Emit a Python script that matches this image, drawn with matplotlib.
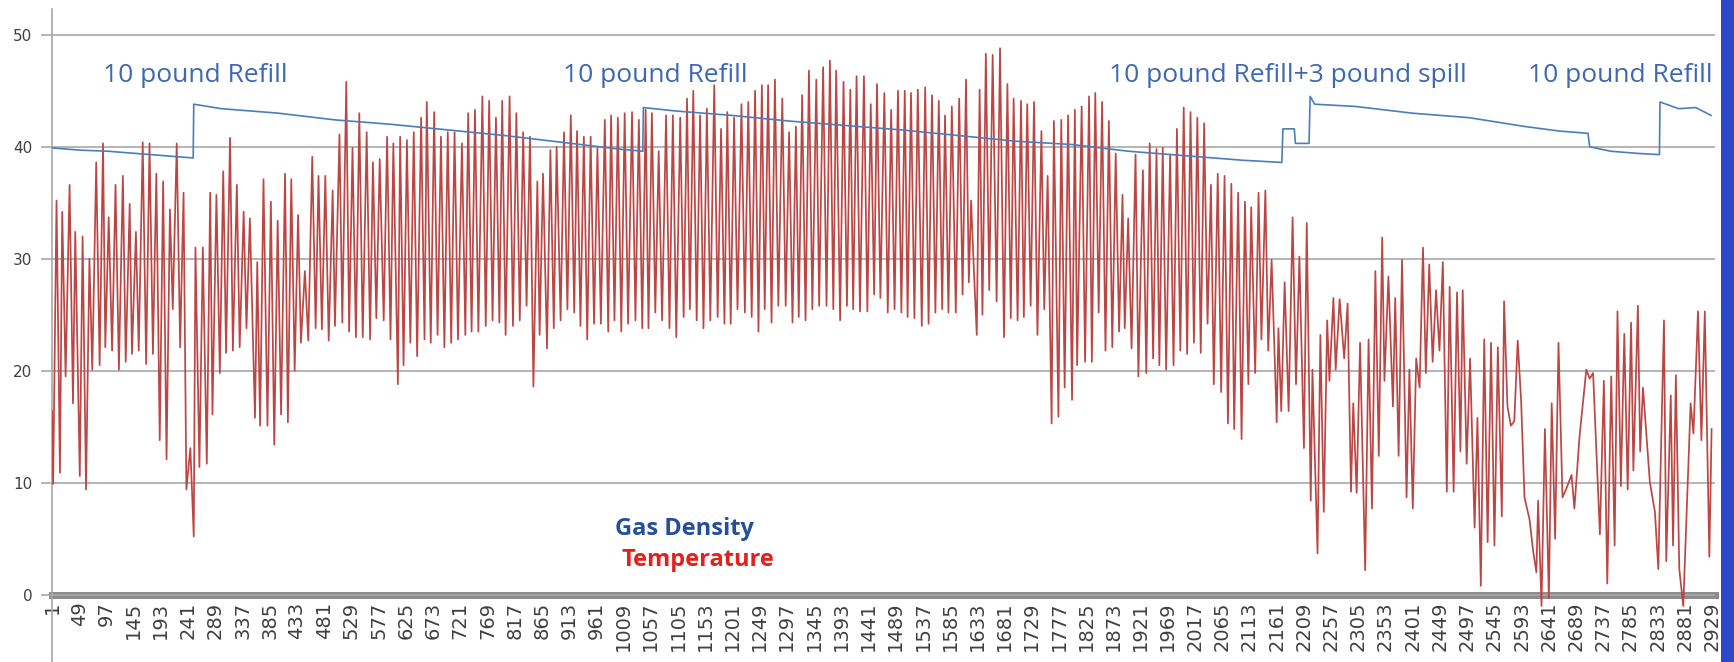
import matplotlib
matplotlib.use("Agg")
import matplotlib.pyplot as plt
from matplotlib.patches import Rectangle

# ---------------- data ----------------
temp_idx = [1, 3, 9, 15, 19, 25, 32, 38, 42, 50, 55, 61, 67, 72, 79, 85, 91, 95, 101, 107, 113, 119, 126, 131, 138, 142, 149, 154, 161, 167, 173, 179, 185, 191, 197, 203, 209, 214, 221, 227, 233, 238, 245, 251, 254, 261, 267, 274, 280, 284, 291, 297, 303, 308, 315, 320, 327, 332, 339, 344, 350, 359, 363, 368, 374, 381, 387, 393, 399, 405, 412, 417, 423, 429,
            435, 440, 447, 453, 460, 466, 471, 477, 483, 489, 496, 500, 508, 513, 520, 525, 531, 537, 543, 549, 556, 562, 567, 573, 579, 586, 592, 598, 603, 611, 615, 621, 627, 633, 639, 645, 652, 658, 662, 669, 675, 681, 687, 693, 699, 705, 711, 717, 724, 730, 735, 741, 747, 753, 760, 766, 772, 778, 784, 790, 795, 801, 808, 814, 820, 826, 832, 838, 844, 850, 857, 861, 867, 874, 880, 886, 891,
            898, 904, 910, 916, 922, 927, 933, 939, 945, 951, 957, 963, 969, 976, 982, 987, 993, 999, 1005, 1011, 1017, 1024, 1030, 1036, 1042, 1048, 1053, 1059, 1065, 1071, 1077, 1084, 1090, 1096, 1102, 1109, 1115, 1121, 1126, 1132, 1138, 1144, 1150, 1156, 1162, 1169, 1175, 1181, 1187, 1192, 1198, 1204, 1210, 1217, 1223, 1229, 1235, 1241, 1247, 1253, 1258, 1264, 1270, 1276, 1282, 1289, 1295, 1301, 1307, 1313, 1318, 1324, 1330, 1336, 1342, 1349, 1354,
            1361, 1367, 1373, 1379, 1384, 1391, 1397, 1403, 1409, 1414, 1420, 1426, 1433, 1439, 1445, 1451, 1456, 1462, 1469, 1475, 1481, 1487, 1493, 1499, 1505, 1510, 1516, 1522, 1528, 1535, 1541, 1547, 1553, 1559, 1565, 1571, 1576, 1582, 1588, 1595, 1601, 1607, 1613, 1618, 1622, 1627, 1632, 1637, 1642, 1648, 1654, 1660, 1667, 1673, 1680, 1686, 1692, 1697, 1704, 1710, 1715, 1721, 1727, 1733, 1739, 1746, 1751, 1757, 1764, 1768, 1776, 1781, 1787, 1793, 1800, 1805,
            1809, 1817, 1823, 1830, 1835, 1841, 1847, 1853, 1859, 1865, 1871, 1877, 1883, 1889, 1893, 1899, 1905, 1912, 1917, 1925, 1931, 1937, 1943, 1949, 1954, 1960, 1966, 1973, 1979, 1985, 1991, 1997, 2003, 2009, 2015, 2021, 2027, 2033, 2039, 2045, 2050, 2057, 2063, 2069, 2075, 2081, 2086, 2093, 2099, 2105, 2111, 2116, 2123, 2129, 2134, 2141, 2146, 2152, 2161, 2164, 2169, 2175, 2182, 2189, 2195, 2201, 2209, 2214, 2221, 2224, 2233, 2238, 2244, 2250, 2254, 2261, 2265, 2272,
            2280, 2286, 2292, 2296, 2302, 2308, 2317, 2323, 2329, 2335, 2341, 2347, 2351, 2358, 2366, 2370, 2376, 2382, 2390, 2395, 2401, 2407, 2413, 2419, 2424, 2430, 2436, 2442, 2448, 2454, 2461, 2466, 2473, 2479, 2485, 2489, 2496, 2502, 2510, 2515, 2521, 2527, 2533, 2539, 2545, 2551, 2558, 2562, 2568, 2574, 2580, 2586, 2592, 2598, 2607, 2613, 2619, 2622, 2628, 2634, 2641, 2646, 2652, 2658, 2665, 2672, 2681, 2686, 2695, 2707, 2713, 2719,
            2731, 2738, 2744, 2751, 2757, 2762, 2768, 2774, 2780, 2786, 2790, 2798, 2802, 2807, 2819, 2828, 2834, 2844, 2848, 2856, 2860, 2865, 2871, 2878, 2891, 2896, 2904, 2910, 2916, 2924, 2928]

temp_val = [16.4, 9.9, 35.2, 10.9, 34.2, 19.5, 36.6, 17.1, 32.4, 10.6, 32.0, 9.4, 30.0, 20.1, 38.6, 20.5, 40.3, 22.1, 33.7, 21.8, 36.6, 20.1, 37.4, 20.8, 34.9, 21.5, 32.4, 21.8, 40.4, 20.6, 40.3, 21.5, 37.6, 13.8, 36.9, 12.1, 34.4, 25.5, 40.3, 22.1, 35.9, 9.4, 13.1, 5.2, 31.0, 11.4, 31.0, 11.7, 35.9, 16.1, 35.7, 19.8, 37.8, 21.6, 40.8, 21.8, 36.6, 22.1, 34.2, 23.8, 33.6, 15.8, 29.7, 15.1, 37.1, 15.1, 35.1, 13.4, 33.4, 16.1, 37.6, 15.4, 37.1, 20.0,
            33.9, 22.5, 28.9, 22.7, 39.1, 23.8, 37.4, 23.7, 37.4, 22.7, 36.1, 24.0, 41.1, 24.3, 45.8, 23.5, 39.9, 23.0, 43.0, 23.0, 41.3, 22.8, 38.6, 24.7, 38.9, 24.5, 40.9, 22.8, 40.3, 18.8, 40.9, 20.5, 40.6, 22.5, 41.3, 21.3, 42.6, 22.8, 44.0, 22.5, 43.1, 23.2, 40.9, 22.1, 41.3, 22.5, 41.3, 22.8, 40.3, 23.2, 43.0, 23.5, 43.3, 23.5, 44.5, 24.0, 44.1, 24.5, 42.6, 24.3, 44.1, 23.2, 44.5, 24.0, 43.0, 24.5, 41.3, 25.8, 40.9, 18.6, 36.9, 23.2, 37.6, 22.0, 39.7, 23.8, 40.0,
            24.5, 41.3, 25.5, 42.8, 25.2, 41.4, 24.0, 40.9, 22.8, 40.9, 24.2, 39.9, 24.2, 42.4, 23.5, 42.8, 24.5, 42.6, 23.5, 43.0, 24.2, 43.1, 24.5, 42.4, 23.8, 43.3, 23.8, 43.0, 25.2, 39.6, 24.5, 42.8, 23.8, 42.8, 23.0, 42.6, 24.8, 44.3, 25.5, 45.0, 24.5, 42.8, 23.8, 43.4, 24.5, 45.5, 24.8, 41.6, 24.2, 43.1, 24.2, 42.6, 25.5, 43.8, 25.2, 44.0, 24.8, 45.0, 23.5, 45.5, 25.5, 45.5, 24.3, 46.0, 25.8, 44.3, 25.8, 41.3, 24.3, 41.8, 24.8, 44.6, 24.5, 46.8, 25.5, 46.0, 25.8,
            47.1, 25.8, 47.7, 25.5, 46.8, 24.5, 45.8, 25.8, 45.1, 25.5, 46.3, 25.3, 46.3, 25.3, 43.8, 26.8, 45.6, 26.5, 44.8, 25.2, 43.3, 25.5, 45.0, 25.2, 45.0, 24.8, 44.8, 24.7, 45.1, 24.0, 45.3, 24.2, 44.6, 25.2, 44.1, 25.5, 42.8, 25.2, 43.6, 25.2, 44.3, 26.8, 46.0, 27.9, 35.2, 28.9, 23.2, 45.1, 25.0, 48.3, 27.2, 48.2, 26.2, 48.8, 23.0, 45.6, 24.7, 44.3, 24.5, 44.1, 24.8, 43.8, 25.8, 44.0, 23.2, 41.4, 25.5, 37.4, 15.3, 42.3, 15.9, 42.4, 18.5, 42.8, 17.4, 43.3,
            20.5, 43.6, 20.8, 44.5, 20.8, 44.8, 25.2, 44.0, 21.8, 42.3, 22.1, 39.4, 23.5, 35.7, 23.8, 33.6, 22.0, 39.3, 19.5, 37.9, 19.8, 40.3, 21.1, 39.8, 20.5, 39.9, 20.1, 39.3, 20.5, 41.6, 21.8, 43.5, 21.5, 43.1, 22.5, 42.6, 21.6, 42.1, 24.2, 36.6, 18.8, 37.6, 18.1, 37.4, 15.3, 36.7, 14.8, 35.9, 13.9, 35.1, 18.8, 34.6, 19.8, 35.9, 22.8, 36.1, 21.8, 29.9, 15.4, 23.8, 16.4, 27.9, 16.4, 33.7, 18.8, 30.2, 13.1, 33.2, 8.4, 20.1, 3.7, 23.2, 7.4, 24.5, 19.1, 26.5, 20.1, 26.4,
            21.1, 26.0, 9.2, 17.1, 9.1, 22.5, 2.2, 22.8, 7.7, 28.9, 12.4, 31.9, 19.1, 28.4, 16.8, 26.5, 12.4, 29.9, 8.7, 20.1, 7.7, 21.1, 18.5, 31.0, 19.8, 29.5, 20.8, 27.2, 21.8, 29.7, 9.2, 27.5, 9.2, 27.0, 12.8, 27.2, 11.7, 21.1, 6.0, 15.8, 0.8, 22.8, 4.7, 22.5, 4.4, 22.1, 7.0, 26.2, 16.8, 15.1, 15.5, 22.7, 17.4, 8.7, 6.7, 4.0, 2.0, 8.4, -1.0, 14.8, -0.3, 17.1, 5.0, 22.5, 8.7, 9.5, 10.7, 7.7, 14.1, 20.1, 19.3, 19.8,
            5.4, 19.1, 1.0, 19.5, 4.4, 25.3, 9.7, 23.3, 9.4, 24.3, 11.1, 25.8, 12.8, 18.5, 10.1, 7.4, 2.3, 24.5, 3.0, 17.8, 4.4, 19.6, 2.3, -1.0, 17.1, 14.4, 25.3, 13.8, 25.3, 3.4, 14.8]

gas_idx = [1, 50, 100, 150, 200, 250, 251, 300, 400, 500, 600, 700, 800, 900, 1000, 1043, 1044, 1100, 1200, 1300, 1400, 1500, 1600, 1700, 1800, 1900, 2000, 2100, 2170, 2172, 2192, 2194, 2218, 2220, 2228, 2300, 2400, 2500, 2600, 2660, 2710, 2713, 2750, 2800, 2836, 2837, 2870, 2900, 2927]
gas_val = [39.9, 39.7, 39.6, 39.4, 39.2, 39.0, 43.8, 43.4, 43.0, 42.4, 42.0, 41.5, 41.0, 40.4, 39.8, 39.6, 43.5, 43.2, 42.8, 42.3, 41.9, 41.5, 41.0, 40.5, 40.2, 39.6, 39.2, 38.8, 38.6, 41.6, 41.6, 40.3, 40.3, 44.5, 43.8, 43.6, 43.0, 42.6, 41.8, 41.4, 41.2, 40.0, 39.6, 39.4, 39.3, 44.0, 43.4, 43.5, 42.8]

tick_pos = list(range(1, 2930, 48))
tick_labels = [str(t) for t in tick_pos]
ytick_vals = [0, 10, 20, 30, 40, 50]

notes = ["10 pound Refill", "10 pound Refill", "10 pound Refill+3 pound spill", "10 pound Refill"]
note_idx = [91, 902, 1865, 2604]
note_y = 46.4
legend_labels = ["Gas Density", "Temperature"]

# ---------------- figure ----------------
W, H = 1734, 662
fig = plt.figure(figsize=(W / 100, H / 100), dpi=100)
fig.patch.set_facecolor("white")
ax = fig.add_axes([52 / W, 0, (1715 - 52) / W, 653 / H])

# spine position first (it resets the ticks)
for s in ["top", "right"]:
    ax.spines[s].set_visible(False)
ax.spines["bottom"].set_position(("data", 0))
ax.spines["left"].set_color("#a8a8a8")
ax.spines["left"].set_linewidth(1.2)
ax.spines["bottom"].set_color("#8c8c8c")
ax.spines["bottom"].set_linewidth(5)
ax.spines["bottom"].set_zorder(1)

ax.set_xlim(1, 2934)
ax.set_ylim(-6, 52.3)

ax.set_yticks(ytick_vals)
ax.set_yticklabels([str(v) for v in ytick_vals], fontsize=11, color="#404040")
ax.yaxis.grid(True, color="#a8a8a8", lw=1.2, zorder=0)
ax.tick_params(axis="y", length=8, color="#a8a8a8", width=1.2, pad=6)

ax.set_xticks(tick_pos)
ax.set_xticklabels(tick_labels, rotation=90, fontsize=14, color="#404040")
ax.tick_params(axis="x", length=0, pad=5)

ax.plot(temp_idx, temp_val, color="#bc4644", lw=1.25, zorder=3)
ax.plot(gas_idx, gas_val, color="#4a7ebb", lw=1.2, zorder=4)

for s, xi in zip(notes, note_idx):
    ax.text(xi, note_y, s, color="#3d68b2", fontsize=19, family="Open Sans",
            ha="left", va="center", zorder=5)

fig.text(615 / W, 1 - 529 / H, legend_labels[0], color="#24509a", fontsize=17,
         family="Open Sans", fontweight="bold", ha="left", va="center")
fig.text(621 / W, 1 - 560 / H, legend_labels[1], color="#e3201b", fontsize=17,
         family="Open Sans", fontweight="bold", ha="left", va="center")

fig.patches.append(Rectangle((1721 / W, 0), 13 / W, 1, transform=fig.transFigure,
                             facecolor="#2a48c8", edgecolor="none"))

fig.savefig("out.png", dpi=100)
